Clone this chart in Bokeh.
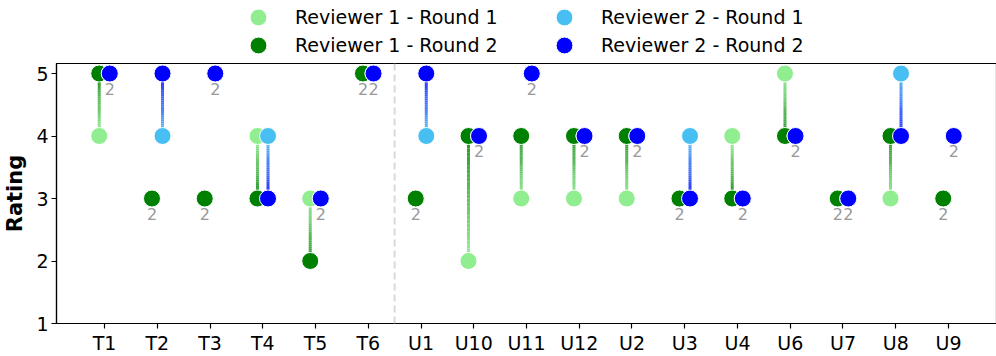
from bokeh.plotting import figure
from bokeh.models import Range1d, FixedTicker, Span, Legend, LegendItem
from bokeh.layouts import column
from bokeh.embed import file_html
from bokeh.resources import INLINE
from bokeh.core.properties import value

categories = ["T1", "T2", "T3", "T4", "T5", "T6", "U1", "U10", "U11", "U12",
              "U2", "U3", "U4", "U6", "U7", "U8", "U9"]
rev1_round1 = [4, 3, 3, 4, 3, 5, 3, 2, 3, 3, 3, 3, 4, 5, 3, 3, 3]
rev1_round2 = [5, 3, 3, 3, 2, 5, 3, 4, 4, 4, 4, 3, 3, 4, 3, 4, 3]
rev2_round1 = [5, 4, 5, 4, 3, 5, 4, 4, 5, 4, 4, 4, 3, 4, 3, 5, 4]
rev2_round2 = [5, 5, 5, 3, 3, 5, 5, 4, 5, 4, 4, 3, 3, 4, 3, 4, 4]
series_labels = ["Reviewer 1 - Round 1", "Reviewer 1 - Round 2",
                 "Reviewer 2 - Round 1", "Reviewer 2 - Round 2"]
y_ticks = [1, 2, 3, 4, 5]
split_after = 5  # dashed separator between T6 and U1

R1_LIGHT, R1_DARK = "#90EE90", "#008000"
R2_LIGHT, R2_DARK = "#48BFF3", "#0000FF"
OFFSET = 0.1
FONT = "DejaVu Sans"
SIZE = 17

p = figure(frame_width=940, frame_height=260, output_backend="svg",
           toolbar_location=None, x_range=Range1d(-0.91, 16.91),
           y_range=Range1d(1, 5.16), min_border_top=0, min_border_left=54,
           min_border_right=2, min_border_bottom=33)
p.xgrid.visible = False
p.ygrid.visible = False
p.outline_line_color = "black"
p.outline_line_width = 1.2


def hex2rgb(h):
    h = h.lstrip("#")
    return tuple(int(h[i:i + 2], 16) for i in (0, 2, 4))


def mix(c0, c1, t):
    a, b = hex2rgb(c0), hex2rgb(c1)
    return "#%02x%02x%02x" % tuple(int(round(a[k] + (b[k] - a[k]) * t)) for k in range(3))


def gradient_segments(xs, r1, r2, c0, c1, n=30):
    x0s, y0s, x1s, y1s, cols = [], [], [], [], []
    for x, a, b in zip(xs, r1, r2):
        if a == b:
            continue
        for k in range(n):
            t0, t1 = k / n, (k + 1) / n
            x0s.append(x); x1s.append(x)
            y0s.append(a + (b - a) * t0); y1s.append(a + (b - a) * t1)
            cols.append(mix(c0, c1, (t0 + t1) / 2))
    return x0s, y0s, x1s, y1s, cols


idx = list(range(len(categories)))
x1 = [i - OFFSET for i in idx]
x2 = [i + OFFSET for i in idx]

p.add_layout(Span(location=split_after + 0.5, dimension="height",
                  line_color="#d9d9d9", line_width=2, line_dash="7 4"))

for xs, ra, rb, c0, c1 in [(x1, rev1_round1, rev1_round2, R1_LIGHT, R1_DARK),
                           (x2, rev2_round1, rev2_round2, R2_LIGHT, R2_DARK)]:
    sx0, sy0, sx1, sy1, sc = gradient_segments(xs, ra, rb, c0, c1)
    p.segment(x0=sx0, y0=sy0, x1=sx1, y1=sy1, line_color=sc, line_width=3,
              line_alpha=0.85)

series = [(x1, rev1_round1, R1_LIGHT), (x1, rev1_round2, R1_DARK),
          (x2, rev2_round1, R2_LIGHT), (x2, rev2_round2, R2_DARK)]
for xs, ys, col in series:
    p.scatter(xs, ys, size=SIZE, fill_color=col, line_color="white", line_width=1)

lx, ly = [], []
for xs, ra, rb in [(x1, rev1_round1, rev1_round2), (x2, rev2_round1, rev2_round2)]:
    for x, a, b in zip(xs, ra, rb):
        if a == b:
            lx.append(x); ly.append(b)
p.text(x=lx, y=ly, text=["2"] * len(lx), text_align="center", text_baseline="middle",
       y_offset=15, text_color="#999999", text_font=value(FONT), text_font_size="16px")

p.xaxis.ticker = FixedTicker(ticks=idx)
p.xaxis.major_label_overrides = {i: c for i, c in enumerate(categories)}
p.yaxis.ticker = FixedTicker(ticks=y_ticks)
p.yaxis.axis_label = "Rating"
p.yaxis.axis_label_text_font_style = "bold"
p.yaxis.axis_label_text_font_size = "21px"
p.yaxis.axis_label_text_font = FONT
p.yaxis.axis_label_text_color = "black"
p.yaxis.axis_label_standoff = 6
for ax in (p.xaxis, p.yaxis):
    ax.major_label_text_font = FONT
    ax.major_label_text_font_size = "19px"
    ax.major_label_text_color = "black"
    ax.major_tick_out = 5
    ax.major_tick_in = 0
    ax.minor_tick_out = 0
    ax.minor_tick_in = 0
    ax.major_label_standoff = 3
    ax.axis_line_color = "black"
    ax.axis_line_width = 1.2
    ax.major_tick_line_width = 1.2

# legend strip above the plot (separate figure so the legend is not clipped);
# its proxy renderers hold one real point each, outside the strip's visible range
lg = figure(width=996, height=63, output_backend="svg", toolbar_location=None,
            x_range=Range1d(-0.91, 16.91), y_range=Range1d(10, 11), min_border=0)
lg.axis.visible = False
lg.xgrid.visible = False
lg.ygrid.visible = False
lg.outline_line_color = None
rends = [lg.scatter(xs[:1], ys[:1], size=SIZE, fill_color=col, line_color="white",
                    line_width=1)
         for xs, ys, col in series]
legend_cols = (181, 487)   # screen x of each legend column
legend_rows = (25, -3)     # screen y of each legend row
for k, (label, rend) in enumerate(zip(series_labels, rends)):
    leg = Legend(items=[LegendItem(label=label, renderers=[rend])],
                 location=(legend_cols[k // 2], legend_rows[k % 2]))
    leg.glyph_width = 42
    leg.glyph_height = 42
    leg.padding = 0
    leg.margin = 0
    leg.label_standoff = 16
    leg.border_line_color = None
    leg.background_fill_alpha = 0
    leg.label_text_font = FONT
    leg.label_text_font_size = "19px"
    leg.label_text_color = "black"
    lg.add_layout(leg, "center")

layout = column(lg, p, spacing=0)
open("out.html", "w").write(file_html(layout, INLINE))
